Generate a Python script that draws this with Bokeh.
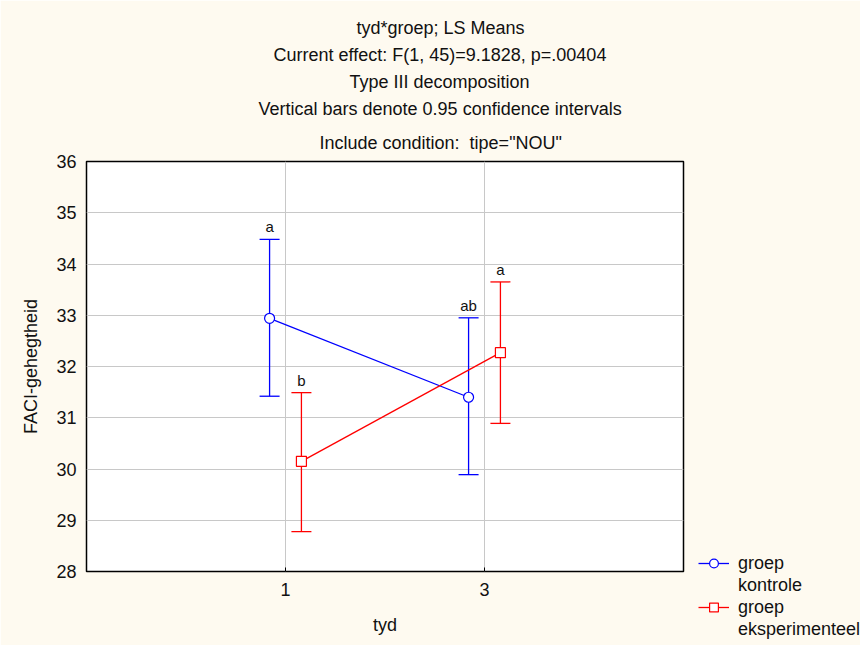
from bokeh.plotting import figure
from bokeh.models import (ColumnDataSource, FactorRange, Range1d, Whisker, TeeHead,
                          Title, Legend, LegendItem, SingleIntervalTicker)
from bokeh.transform import dodge
from bokeh.core.properties import value
from bokeh.embed import file_html
from bokeh.resources import INLINE

# ---- data ----
tyd = ["1", "3"]
kontrole_mean = [32.94, 31.40]
kontrole_upper = [34.48, 32.95]
kontrole_lower = [31.42, 29.89]
kontrole_letters = ["a", "ab"]
eksp_mean = [30.15, 32.27]
eksp_upper = [31.49, 33.65]
eksp_lower = [28.78, 30.89]
eksp_letters = ["b", "a"]

title_lines = [
    "tyd*groep; LS Means",
    "Current effect: F(1, 45)=9.1828, p=.00404",
    "Type III decomposition",
    "Vertical bars denote 0.95 confidence intervals",
    'Include condition:\u00a0 tipe="NOU"',
]
# left offsets (px from plot-area left) that centre each title line
title_offsets = [270, 187, 263, 172, 233]
title_standoffs = [5, 5, 5, 5, 18]

BG = "#FEFAF0"
FONT = "Liberation Sans"
TXT = "#111111"
BLUE = "#0000FF"
RED = "#FF0000"
FS = "18px"

p = figure(width=860, height=645, frame_width=597, frame_height=410,
           output_backend="svg", toolbar_location=None,
           x_range=FactorRange(factors=tyd, range_padding=0.5, range_padding_units="absolute"),
           y_range=Range1d(28, 36),
           min_border_left=86, min_border_right=177, min_border_top=161, min_border_bottom=74)
p.border_fill_color = BG
p.background_fill_color = "white"
p.outline_line_color = "black"
p.outline_line_width = 1.5

# axes
p.yaxis.ticker = SingleIntervalTicker(interval=1)
for ax in (p.xaxis[0], p.yaxis[0]):
    ax.axis_line_color = None
    ax.minor_tick_line_color = None
    ax.major_label_text_font = FONT
    ax.major_label_text_font_size = FS
    ax.major_label_text_color = TXT
    ax.axis_label_text_font = FONT
    ax.axis_label_text_font_size = FS
    ax.axis_label_text_font_style = "normal"
    ax.axis_label_text_color = TXT
p.xaxis.major_tick_in = 4
p.xaxis.major_tick_out = 0
p.xaxis.major_tick_line_color = "black"
p.yaxis.major_tick_in = 0
p.yaxis.major_tick_out = 0
p.yaxis.major_label_standoff = 6
p.xaxis.major_label_standoff = 11
p.xaxis.axis_label = "tyd"
p.yaxis.axis_label = "FACI-gehegtheid"
p.xaxis.axis_label_standoff = 16
p.yaxis.axis_label_standoff = 12
p.grid.grid_line_color = "#C8C8C8"
p.grid.grid_line_width = 1

src_k = ColumnDataSource(dict(tyd=tyd, mean=kontrole_mean, upper=kontrole_upper,
                              lower=kontrole_lower, letter=kontrole_letters))
src_e = ColumnDataSource(dict(tyd=tyd, mean=eksp_mean, upper=eksp_upper,
                              lower=eksp_lower, letter=eksp_letters))

renderers = {}
for src, col, off, marker, key in [(src_k, BLUE, -0.08, "circle", "k"),
                                   (src_e, RED, 0.08, "square", "e")]:
    xs = dodge("tyd", off, range=p.x_range)
    ln = p.line(x=xs, y="mean", source=src, line_color=col, line_width=1.3)
    w = Whisker(base=xs, upper="upper", lower="lower", source=src,
                line_color=col, line_width=1.3,
                upper_head=TeeHead(size=20, line_color=col, line_width=1.3),
                lower_head=TeeHead(size=20, line_color=col, line_width=1.3))
    p.add_layout(w)
    sc = p.scatter(x=xs, y="mean", source=src, marker=marker, size=10,
                   fill_color="white", line_color=col, line_width=1.2)
    p.text(x=xs, y="upper", text="letter", source=src, text_align="center",
           text_baseline="bottom", y_offset=-4, text_font=value(FONT),
           text_font_size="15px", text_color=TXT)
    renderers[key] = (ln, sc)

# title lines (added innermost first)
for t, off, so in reversed(list(zip(title_lines, title_offsets, title_standoffs))):
    p.add_layout(Title(text=t, align="left", offset=off, standoff=so,
                       text_font=FONT, text_font_size=FS, text_font_style="normal",
                       text_color=TXT), "above")

# legend
dummy = p.line(x=[], y=[], line_alpha=0)
legend = Legend(items=[
    LegendItem(label="groep", renderers=list(renderers["k"])),
    LegendItem(label="kontrole", renderers=[dummy]),
    LegendItem(label="groep", renderers=list(renderers["e"])),
    LegendItem(label="eksperimenteel", renderers=[dummy]),
], location=(15, -69), glyph_width=31, glyph_height=22, label_height=22,
    spacing=0, padding=0, margin=0, label_standoff=9,
    label_text_font=FONT, label_text_font_size=FS, label_text_color=TXT,
    border_line_alpha=0, background_fill_alpha=0)
p.add_layout(legend, "right")

html = file_html(p, INLINE)
html = html.replace("<body>", '<body style="background-color:%s;overflow:hidden">' % BG, 1)
open("out.html", "w").write(html)
